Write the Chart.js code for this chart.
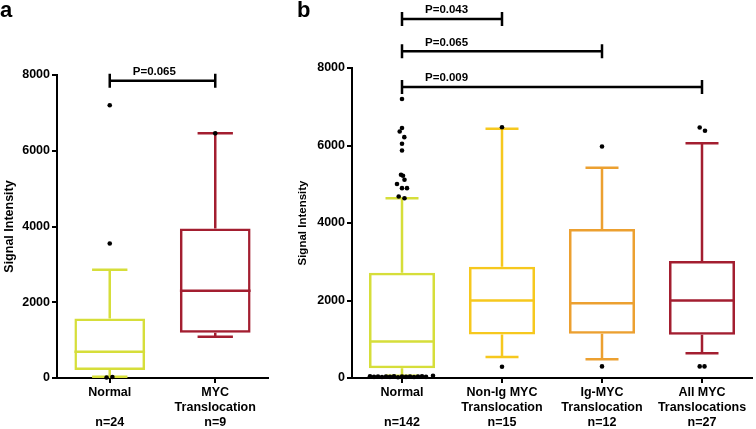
<!DOCTYPE html>
<html>
<head>
<meta charset="utf-8">
<script src="https://cdn.jsdelivr.net/npm/chart.js@4.4.0/dist/chart.umd.min.js"></script>
<style>
body { margin: 0; background: #fff; }
#wrap { position: relative; width: 756px; height: 429px; }
canvas { position: absolute; top: 0; }
#chartA { left: 0; }
#chartB { left: 272px; }
</style>
</head>
<body>
<div id="wrap">
  <canvas id="chartA" width="272" height="429"></canvas>
  <canvas id="chartB" width="484" height="429"></canvas>
</div>
<script>
// ---- panel a ----
var labelsA = [['Normal', '', 'n=24'], ['MYC', 'Translocation', 'n=9']];
var minA = [30, 1090];
var q1A = [210, 1195];
var medA = [695, 2305];
var q3A = [1570, 3950];
var maxA = [2855, 6460];
var colorsA = ['#d6de3a', '#a31e30'];
var outGroupA = [0, 0, 0, 0, 1];
var outShiftA = [0, 0, -0.03, 0.025, 0];
var outValueA = [7200, 3550, 15, 25, 6460];
var pFromA = [0];
var pToA = [1];
var pLevelA = [7850];
var pTextA = ['P=0.065'];

// ---- panel b ----
var labelsB = [['Normal', '', 'n=142'], ['Non-Ig MYC', 'Translocation', 'n=15'],
               ['Ig-MYC', 'Translocation', 'n=12'], ['All MYC', 'Translocations', 'n=27']];
var minB = [60, 545, 485, 640];
var q1B = [250, 1120, 1140, 1115];
var medB = [940, 2000, 1930, 2000];
var q3B = [2715, 2870, 3845, 3020];
var maxB = [4640, 6430, 5425, 6060];
var colorsB = ['#d6de3a', '#f6c81e', '#eca030', '#a31e30'];
var outGroupB = [0, 0, 0, 0, 0, 0, 0, 0, 0, 0, 0, 0, 0, 0,
                 0, 0, 0, 0, 0, 0, 0, 0, 0, 0, 0, 0, 0, 0, 0, 0,
                 1, 1, 2, 2, 3, 3, 3, 3];
var outShiftB = [0, 0, -0.023, 0.023, 0, 0, -0.01, 0.01, 0.025, -0.05, 0, 0.05, -0.033, 0.025,
                 -0.32, -0.28, -0.24, -0.2, -0.16, -0.12, -0.08, -0.04, 0, 0.04, 0.08, 0.12, 0.16, 0.2, 0.24, 0.31,
                 0, 0, 0, 0, -0.023, 0.03, -0.023, 0.025];
var outValueB = [7200, 6450, 6360, 6215, 6045, 5870, 5245, 5220, 5115, 5005, 4900, 4900, 4685, 4640,
                 45, 30, 40, 25, 35, 30, 45, 20, 35, 30, 40, 25, 35, 45, 30, 55,
                 6470, 290, 5975, 300, 6465, 6380, 300, 300];
var pFromB = [0, 0, 0];
var pToB = [1, 2, 3];
var pLevelB = [9265, 8430, 7510];
var pTextB = ['P=0.043', 'P=0.065', 'P=0.009'];

var FONT = 'Liberation Sans, Arial, sans-serif';

// whiskers, medians, significance brackets and panel letter
var boxParts = {
    id: 'boxParts',
    beforeDatasetsDraw: function (chart, args, opts) {
        var ctx = chart.ctx;
        var y = chart.scales.y;
        var bars = chart.getDatasetMeta(0).data;
        ctx.save();
        ctx.lineWidth = 2.5;
        bars.forEach(function (bar, i) {
            var half = bar.width / 2;
            var cap = bar.width / 4;
            var yMed = y.getPixelForValue(opts.med[i]);
            var yHi = y.getPixelForValue(opts.max[i]);
            var yLo = y.getPixelForValue(opts.min[i]);
            ctx.strokeStyle = opts.colors[i];
            ctx.beginPath();
            ctx.moveTo(bar.x - half, yMed);
            ctx.lineTo(bar.x + half, yMed);
            ctx.moveTo(bar.x, y.getPixelForValue(opts.q3[i]));
            ctx.lineTo(bar.x, yHi);
            ctx.moveTo(bar.x - cap, yHi);
            ctx.lineTo(bar.x + cap, yHi);
            ctx.moveTo(bar.x, y.getPixelForValue(opts.q1[i]));
            ctx.lineTo(bar.x, yLo);
            ctx.moveTo(bar.x - cap, yLo);
            ctx.lineTo(bar.x + cap, yLo);
            ctx.stroke();
        });
        ctx.restore();
    },
    afterDraw: function (chart, args, opts) {
        var ctx = chart.ctx;
        var x = chart.scales.x;
        var y = chart.scales.y;
        ctx.save();
        ctx.strokeStyle = '#000';
        ctx.fillStyle = '#000';
        ctx.lineWidth = 2.5;
        ctx.font = 'bold 11.5px ' + FONT;
        ctx.textBaseline = 'middle';
        ctx.textAlign = 'left';
        opts.pFrom.forEach(function (from, i) {
            var x0 = x.getPixelForValue(from);
            var x1 = x.getPixelForValue(opts.pTo[i]);
            var yy = y.getPixelForValue(opts.pLevel[i]);
            ctx.beginPath();
            ctx.moveTo(x0, yy);
            ctx.lineTo(x1, yy);
            ctx.moveTo(x0, yy - 7);
            ctx.lineTo(x0, yy + 7);
            ctx.moveTo(x1, yy - 7);
            ctx.lineTo(x1, yy + 7);
            ctx.stroke();
            ctx.fillText(opts.pText[i], x0 + 23, yy - 9);
        });
        ctx.font = 'bold 22px ' + FONT;
        ctx.textBaseline = 'alphabetic';
        ctx.fillText(opts.letter, opts.letterX, 17);
        ctx.restore();
    }
};

function makeChart(id, d) {
    var n = d.labels.length;
    var boxes = d.q1.map(function (v, i) { return [v, d.q3[i]]; });
    var dots = d.outValue.map(function (v, i) {
        return { x: d.outGroup[i] + d.outShift[i], y: v };
    });
    return new Chart(document.getElementById(id), {
        type: 'bar',
        data: {
            labels: d.labels,
            datasets: [
                {
                    data: boxes,
                    order: 1,
                    grouped: false,
                    backgroundColor: 'rgba(0,0,0,0)',
                    borderColor: d.colors,
                    borderWidth: 2.5,
                    borderSkipped: false,
                    categoryPercentage: 1,
                    barPercentage: d.barPct,
                    clip: false
                },
                {
                    type: 'scatter',
                    data: dots,
                    order: 0,
                    xAxisID: 'xj',
                    pointRadius: 2.3,
                    pointBorderWidth: 0,
                    pointBackgroundColor: '#000',
                    clip: false
                }
            ]
        },
        options: {
            responsive: false,
            animation: false,
            layout: { padding: { top: d.top, left: d.padLeft, right: d.padRight, bottom: 0 } },
            plugins: {
                legend: { display: false },
                tooltip: { enabled: false },
                boxParts: {
                    colors: d.colors, med: d.med, q1: d.q1, q3: d.q3, min: d.min, max: d.max,
                    pFrom: d.pFrom, pTo: d.pTo, pLevel: d.pLevel, pText: d.pText,
                    letter: d.letter, letterX: d.letterX
                }
            },
            scales: {
                x: {
                    offset: true,
                    grid: { offset: false, drawOnChartArea: false, color: '#000', lineWidth: 2, tickLength: 5 },
                    border: { color: '#000', width: 2 },
                    ticks: { color: '#000', font: { family: FONT, weight: 'bold', size: 12.5, lineHeight: 1.2 }, padding: 2, maxRotation: 0, autoSkip: false },
                    afterFit: function (s) { s.height = 51; }
                },
                xj: {
                    type: 'linear',
                    display: false,
                    offset: false,
                    min: -0.5,
                    max: n - 0.5
                },
                y: {
                    min: 0,
                    max: 8000,
                    grid: { drawOnChartArea: false, color: '#000', lineWidth: 2, tickLength: 5 },
                    border: { color: '#000', width: 2 },
                    ticks: {
                        stepSize: 2000, color: '#000', padding: 2,
                        font: { family: FONT, weight: 'bold', size: 12.5 },
                        callback: function (v) { return String(v); }
                    },
                    title: {
                        display: true,
                        text: 'Signal Intensity',
                        color: '#000',
                        font: { family: FONT, weight: 'bold', size: d.titleSize },
                        padding: { top: 2, bottom: 2 }
                    },
                    afterFit: function (s) { s.width = d.axisWidth; }
                }
            }
        },
        plugins: [boxParts]
    });
}

makeChart('chartA', {
    labels: labelsA, min: minA, q1: q1A, med: medA, q3: q3A, max: maxA, colors: colorsA,
    outGroup: outGroupA, outShift: outShiftA, outValue: outValueA,
    pFrom: pFromA, pTo: pToA, pLevel: pLevelA, pText: pTextA,
    letter: 'a', letterX: 0, top: 75, padLeft: 0, padRight: 2, axisWidth: 57,
    barPct: 0.67, titleSize: 12.5
});

makeChart('chartB', {
    labels: labelsB, min: minB, q1: q1B, med: medB, q3: q3B, max: maxB, colors: colorsB,
    outGroup: outGroupB, outShift: outShiftB, outValue: outValueB,
    pFrom: pFromB, pTo: pToB, pLevel: pLevelB, pText: pTextB,
    letter: 'b', letterX: 25, top: 68, padLeft: 22, padRight: 3, axisWidth: 58,
    barPct: 0.66, titleSize: 11.5
});
</script>
</body>
</html>
